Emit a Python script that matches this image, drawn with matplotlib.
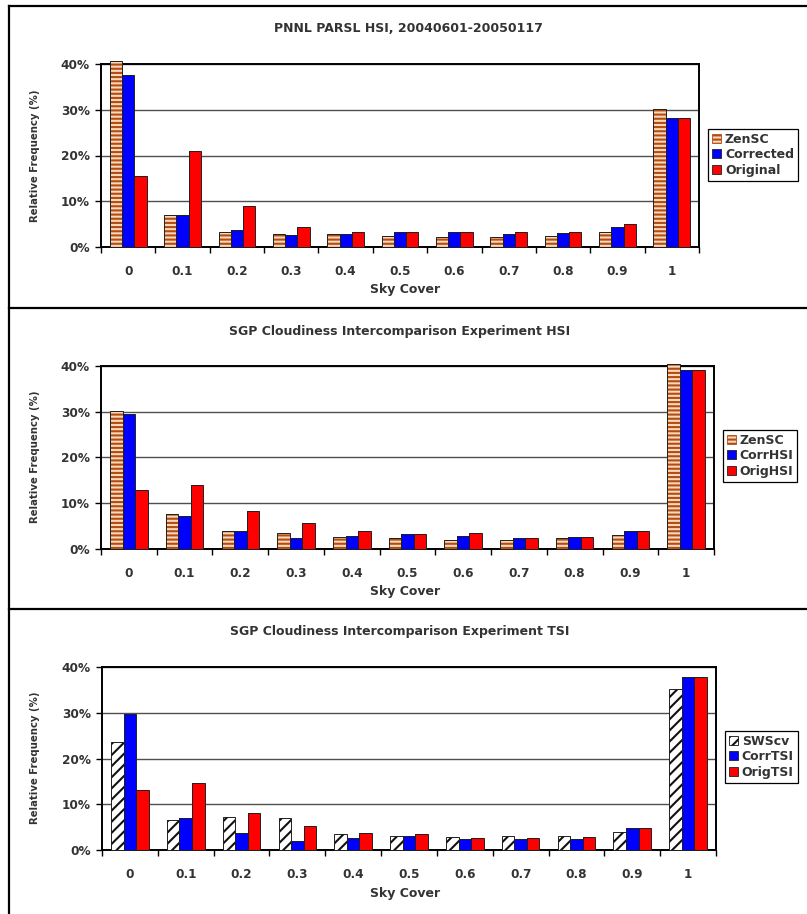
import matplotlib
matplotlib.use("Agg")
import matplotlib.pyplot as plt
from matplotlib.patches import Patch
from matplotlib.lines import Line2D
from matplotlib.ticker import FixedLocator, FuncFormatter

plt.rcParams["font.family"] = ["DejaVu Sans"]
plt.rcParams["hatch.linewidth"] = 1.5

# Sky cover categories (shared by all three panels)
sky_cover = ["0", "0.1", "0.2", "0.3", "0.4", "0.5", "0.6", "0.7", "0.8", "0.9", "1"]

# PNNL PARSL HSI, relative frequency (%)
pnnl_zensc = [40.7, 6.9, 3.2, 2.8, 2.8, 2.5, 2.2, 2.1, 2.5, 3.2, 30.2]
pnnl_corrected = [37.5, 6.9, 3.8, 2.6, 2.8, 3.2, 3.2, 2.9, 3.0, 4.4, 28.3]
pnnl_original = [15.6, 20.9, 8.9, 4.3, 3.2, 3.2, 3.3, 3.2, 3.2, 5.0, 28.3]

# SGP Cloudiness Intercomparison Experiment, HSI
hsi_zensc = [30.1, 7.7, 3.9, 3.4, 2.7, 2.3, 2.0, 2.0, 2.3, 3.1, 40.4]
hsi_corr = [29.5, 7.3, 3.9, 2.3, 2.8, 3.3, 2.8, 2.3, 2.7, 3.9, 39.1]
hsi_orig = [12.8, 13.9, 8.4, 5.6, 3.9, 3.3, 3.4, 2.5, 2.7, 3.9, 39.1]

# SGP Cloudiness Intercomparison Experiment, TSI
tsi_swscv = [23.6, 6.6, 7.2, 6.9, 3.5, 3.1, 2.8, 3.1, 3.1, 3.9, 35.2]
tsi_corr = [29.7, 7.1, 3.7, 2.0, 2.7, 3.1, 2.3, 2.3, 2.5, 4.8, 37.9]
tsi_orig = [13.1, 14.7, 8.0, 5.2, 3.7, 3.4, 2.6, 2.6, 2.8, 4.9, 37.9]

W, H = 807, 914
PEACH = "#FAD8BA"
BROWN = "#B24C12"
BLUE = "#0000FF"
RED = "#FF0000"
EDGE = "#202020"
TEXT = "#333333"
FONT = 9
TICK_FONT = 8.7


def fx(px):
    return px / W


def fy(py):
    return 1 - py / H


STYLES = {
    "stripes": dict(color=PEACH, hatch_color=BROWN, hatch="----"),
    "diag": dict(color="white", hatch_color="#111111", hatch="///"),
    "blue": dict(color=BLUE, hatch_color=None, hatch=None),
    "red": dict(color=RED, hatch_color=None, hatch=None),
}


def draw_panel(fig, box, title, title_xy, ylabel_y, xlabel_xy, series, legend_box):
    x0, y0, x1, y1 = box
    ax = fig.add_axes([fx(x0), fy(y1), fx(x1) - fx(x0), fy(y0) - fy(y1)])
    n = len(sky_cover)
    idx = list(range(n))
    width = 0.225
    handles = []
    for k, (name, vals, style) in enumerate(series):
        st = STYLES[style]
        pos = [i + (k - 1) * width for i in idx]
        if st["hatch"]:
            ax.bar(pos, vals, width, color=st["color"], edgecolor=st["hatch_color"],
                   hatch=st["hatch"], linewidth=0, clip_on=False, zorder=3)
            h = Patch(facecolor=st["color"], edgecolor=st["hatch_color"], hatch=st["hatch"],
                      linewidth=0.6)
        else:
            ax.bar(pos, vals, width, color=st["color"], linewidth=0, clip_on=False, zorder=3)
            h = Patch(facecolor=st["color"], edgecolor=EDGE, linewidth=0.6)
        ax.bar(pos, vals, width, fill=False, edgecolor=EDGE, linewidth=0.7,
               clip_on=False, zorder=4)
        handles.append((h, name))

    ax.set_xlim(-0.5, n - 0.5)
    ax.set_ylim(0, 40)
    ax.yaxis.set_major_locator(FixedLocator([0, 10, 20, 30, 40]))
    ax.yaxis.set_major_formatter(FuncFormatter(lambda v, p: f"{v:.0f}%"))
    ax.xaxis.set_major_locator(FixedLocator([i - 0.5 for i in range(n + 1)]))
    ax.xaxis.set_major_formatter(FuncFormatter(lambda v, p: ""))
    ax.xaxis.set_minor_locator(FixedLocator(idx))
    ax.set_xticklabels(sky_cover, minor=True)
    ax.tick_params(axis="x", which="major", direction="out", length=4, width=1, color="black")
    ax.tick_params(axis="x", which="minor", length=0, pad=13, labelsize=TICK_FONT)
    ax.tick_params(axis="y", direction="out", length=4, width=1, labelsize=TICK_FONT, pad=4)
    for lab in ax.get_xticklabels(minor=True) + ax.get_yticklabels():
        lab.set_fontweight("bold")
        lab.set_color(TEXT)
    for sp in ax.spines.values():
        sp.set_linewidth(1.4)
        sp.set_color("black")
    ax.grid(axis="y", color="#505050", linewidth=1.0, zorder=1)
    ax.set_axisbelow(True)

    fig.text(fx(title_xy[0]), fy(title_xy[1]), title, ha="center", va="center",
             fontsize=FONT, fontweight="bold", color=TEXT)
    fig.text(fx(35), fy(ylabel_y), "Relative Frequency (%)", rotation=90, ha="center",
             va="center", fontsize=7.3, fontweight="bold", color=TEXT)
    fig.text(fx(xlabel_xy[0]), fy(xlabel_xy[1]), "Sky Cover", ha="center", va="center",
             fontsize=FONT, fontweight="bold", color=TEXT)

    lx0, ly0 = legend_box
    leg = fig.legend([h for h, _ in handles], [t for _, t in handles],
                     loc="upper left", bbox_to_anchor=(fx(lx0), fy(ly0)),
                     frameon=True, fancybox=False, edgecolor="black", framealpha=1,
                     prop=dict(size=FONT, weight="bold"), handlelength=0.75,
                     handleheight=0.75, handletextpad=0.3, borderpad=0.3,
                     labelspacing=0.2, borderaxespad=0)
    leg.get_frame().set_linewidth(0.9)
    for t in leg.get_texts():
        t.set_color(TEXT)
    return ax


fig = plt.figure(figsize=(W / 100, H / 100), dpi=100)

draw_panel(fig, (101, 64, 699, 247), "PNNL PARSL HSI, 20040601-20050117", (408, 29), 156,
           (405, 290),
           [("ZenSC", pnnl_zensc, "stripes"), ("Corrected", pnnl_corrected, "blue"),
            ("Original", pnnl_original, "red")],
           (708, 129))

draw_panel(fig, (101, 366, 714, 549), "SGP Cloudiness Intercomparison Experiment HSI",
           (400, 331), 457, (405, 591),
           [("ZenSC", hsi_zensc, "stripes"), ("CorrHSI", hsi_corr, "blue"),
            ("OrigHSI", hsi_orig, "red")],
           (723, 430))

draw_panel(fig, (102, 667, 716, 850), "SGP Cloudiness Intercomparison Experiment TSI",
           (400, 632), 758, (405, 894),
           [("SWScv", tsi_swscv, "diag"), ("CorrTSI", tsi_corr, "blue"),
            ("OrigTSI", tsi_orig, "red")],
           (725, 731))

# Frame lines around and between the three panels
for seg in [((9, 9), (6, H)), ((9, W), (6, 6)), ((9, W), (308, 308)), ((9, W), (609, 609))]:
    fig.add_artist(Line2D([fx(seg[0][0]), fx(seg[0][1])], [fy(seg[1][0]), fy(seg[1][1])],
                          color="black", linewidth=1.6, transform=fig.transFigure))

fig.savefig("out.png", dpi=100, facecolor="white")
